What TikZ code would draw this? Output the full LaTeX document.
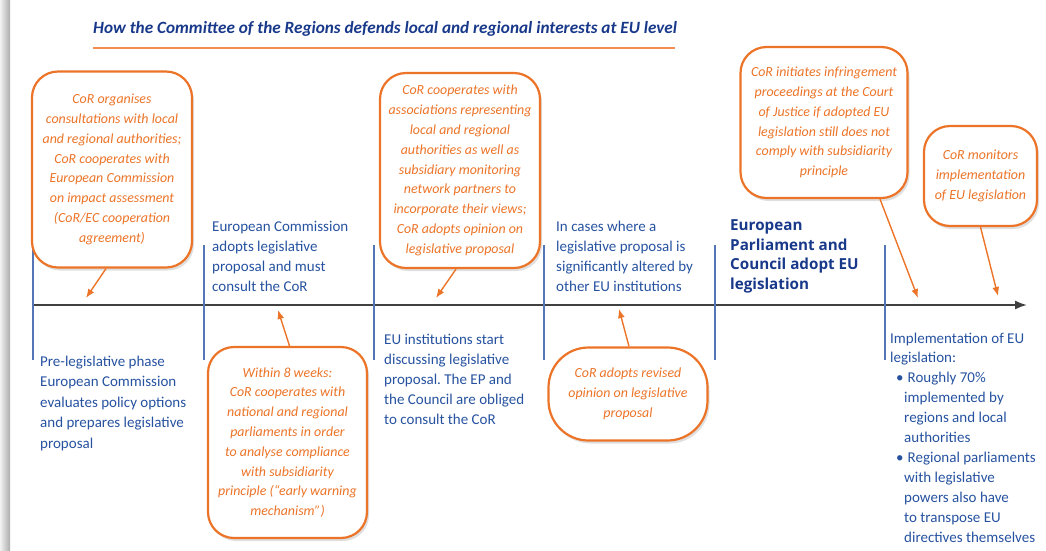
\documentclass[tikz,border=0pt]{standalone}
\usepackage{fontspec}
\setmainfont{Carlito}
\newfontfamily\widebold{Open Sans}
\usetikzlibrary{arrows.meta,shadows}
\definecolor{corOrange}{RGB}{236,116,40}
\definecolor{ruleOrange}{RGB}{242,140,80}
\definecolor{corBlue}{RGB}{38,82,160}
\definecolor{corDark}{RGB}{24,56,138}
\definecolor{sepBlue}{RGB}{84,118,182}
\definecolor{axisGray}{RGB}{64,64,64}
\frenchspacing

\begin{document}
\begin{tikzpicture}[x=1pt,y=-1pt]
      \tikzset{
        box/.style={draw=corOrange,line width=2.2pt,rounded corners=26pt,fill=white,
          text=corOrange,font=\fontsize{13.9}{19.8}\selectfont\itshape,align=center,
          inner sep=0pt,drop shadow={opacity=0.25,shadow xshift=2pt,shadow yshift=-3pt}},
        info/.style={anchor=base west,inner sep=0pt,align=left,text=corBlue,
          font=\fontsize{15}{20}\selectfont},
        sep/.style={draw=sepBlue,line width=1.4pt},
        call/.style={draw=corOrange,line width=1.4pt,-{Latex[length=9pt,width=7pt]}}
      }

      \useasboundingbox (0,0) rectangle (1046,550);
      \shade[left color=gray!10,right color=gray!65] (0,0) rectangle (10,550);

      % title
      \node[anchor=west,inner sep=0pt,text=corDark,
            font=\fontsize{17.2}{19}\selectfont\bfseries\itshape] (title) at (93,29)
            {How the Committee of the Regions defends local and regional interests at EU level};
      \draw[ruleOrange,line width=2pt] (93,48) -- (675,48);

      % time line and phases
      \coordinate (l0) at (33,305);
      \coordinate (l1) at (1027,305);
      \draw[axisGray,line width=1.8pt,-{Latex[length=12pt,width=9pt]}] (l0) -- (l1);
      \draw[sep] (33,245) -- (33,360)
                 (204,245) -- (204,360)
                 (374,245) -- (374,360)
                 (544,245) -- (544,360)
                 (715,245) -- (715,360)
                 (885,245) -- (885,360);

      % texts sit on the baseline of their last line
      \node[info] (t1) at (212,291) {European Commission\\adopts legislative\\proposal and must\\consult the CoR};
      \node[info] (t2) at (556,291) {In cases where a\\legislative proposal is\\significantly altered by\\other EU institutions};
      \node[info,text=corDark,font=\fontsize{15.2}{19.5}\selectfont\widebold\bfseries] (t3) at (730,289)
            {European\\Parliament and\\Council adopt EU\\legislation};
      \node[info,font=\fontsize{15}{20.5}\selectfont] (t4) at (40,448)
            {Pre-legislative phase\\European Commission\\evaluates policy options\\and prepares legislative\\proposal};
      \node[info] (t5) at (384,424) {EU institutions start\\discussing legislative\\proposal. The EP and\\the Council are obliged\\to consult the CoR};
      \node[info,font=\fontsize{15}{19.9}\selectfont] (t6) at (890,542) {Implementation of EU\\legislation:\\
            \hspace*{6pt}\textbullet\hspace{4pt}Roughly 70\%\\\hspace*{14pt}implemented by\\
            \hspace*{14pt}regions and local\\\hspace*{14pt}authorities\\
            \hspace*{6pt}\textbullet\hspace{4pt}Regional parliaments\\\hspace*{14pt}with legislative\\
            \hspace*{14pt}powers also have\\\hspace*{14pt}to transpose EU\\\hspace*{14pt}directives themselves};

      % CoR boxes
      \node[box,minimum width=160pt,minimum height=196pt] (b1) at (112,169.5)
            {CoR organises\\consultations with local\\and regional authorities;\\CoR cooperates with\\European Commission\\on impact assessment\\(CoR/EC cooperation\\agreement)};
      \node[box,minimum width=160pt,minimum height=195pt] (b2) at (460,170.5)
            {CoR cooperates with\\associations representing\\local and regional\\authorities as well as\\subsidiary monitoring\\network partners to\\incorporate their views;\\CoR adopts opinion on\\legislative proposal};
      \node[box,minimum width=167pt,minimum height=151pt] (b3) at (824,122.5)
            {CoR initiates infringement\\proceedings at the Court\\of Justice if adopted EU\\legislation still does not\\comply with subsidiarity\\principle};
      \node[box,minimum width=113pt,minimum height=100pt] (b4) at (980.5,176)
            {CoR monitors\\implementation\\of EU legislation};
      \node[box,minimum width=159pt,minimum height=191pt] (b5) at (287.5,442.5)
            {Within 8 weeks:\\CoR cooperates with\\national and regional\\parliaments in order\\to analyse compliance\\with subsidiarity\\principle (``early warning\\mechanism'')};
      \node[box,rounded corners=40pt,minimum width=159pt,minimum height=93pt] (b6) at (628,394)
            {CoR adopts revised\\opinion on legislative\\proposal};

      \coordinate (p1) at (86,298);
      \coordinate (p2) at (436,298);
      \coordinate (p3) at (918,298);
      \coordinate (p4) at (998,296);
      \coordinate (p5) at (278,310);
      \coordinate (p6) at (619,309);

      \draw ([xshift=-6pt]b1.south) edge[call] (p1)
            ([xshift=-4pt]b2.south) edge[call] (p2)
            ([xshift=56pt]b3.south) edge[call] (p3)
            (b4.south) edge[call] (p4)
            ([xshift=2pt]b5.north) edge[call] (p5)
            ([xshift=1pt]b6.north) edge[call] (p6);
    \end{tikzpicture}
\end{document}
